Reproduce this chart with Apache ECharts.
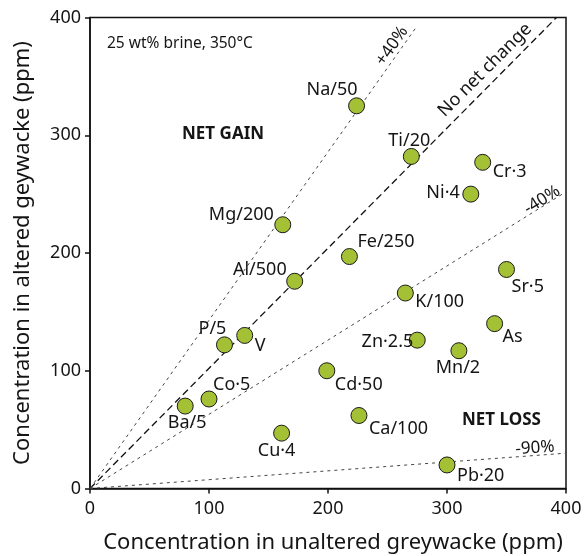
<!DOCTYPE html>
<html lang="en">
  <head>
    <meta charset="UTF-8" />
    <title>Altered vs unaltered greywacke</title>
    <style>
      html, body { margin: 0; padding: 0; background: #ffffff; }
      #app { width: 585px; height: 556px; }
    </style>
  </head>
  <body>
    <div id="app"></div>
    <script src="https://cdn.jsdelivr.net/npm/echarts@6/dist/echarts.min.js"></script>
    <script>
      // element labels and concentrations (ppm, scaled as labelled)
      var names = ['Na/50', 'Ti/20', 'Cr·3', 'Ni·4', 'Mg/200', 'Fe/250', 'Al/500', 'P/5', 'V', 'Co·5',
        'Ba/5', 'Cu·4', 'Sr·5', 'K/100', 'As', 'Zn·2.5', 'Mn/2', 'Cd·50', 'Ca/100', 'Pb·20']
      var unaltered = [224, 270, 330, 320, 162, 218, 172, 113, 130, 100,
        80, 161, 350, 265, 340, 275, 310, 199, 226, 300]
      var altered = [325, 282, 277, 250, 224, 197, 176, 122, 130, 76,
        70, 47, 186, 166, 140, 126, 117, 100, 62, 20]

      // reference lines (start / end points)
      var noChange = [[0, 0], [392, 400]]
      var plus40 = [[0, 0], [275, 393]]
      var minus40 = [[0, 0], [400, 252]]
      var minus90 = [[0, 0], [400, 30]]

      var xTicks = [0, 100, 200, 300, 400]
      var yTicks = [0, 100, 200, 300, 400]

      // label placement for each point: [align, dx, dy]
      var labelPlace = {
        'Na/50': ['right', 1, -16], 'Ti/20': ['center', -2, -16], 'Cr·3': ['left', 10, 10],
        'Ni·4': ['right', -11, -1], 'Mg/200': ['right', -9, -10], 'Fe/250': ['left', 8, -15],
        'Al/500': ['right', -8, -11], 'P/5': ['center', -12, -16], 'V': ['left', 10, 10],
        'Co·5': ['left', 4, -14], 'Ba/5': ['center', 2, 17], 'Cu·4': ['center', -5, 18],
        'Sr·5': ['left', 5, 17], 'K/100': ['left', 10, 9], 'As': ['left', 8, 13],
        'Zn·2.5': ['right', -4, 2], 'Mn/2': ['center', -1, 17], 'Cd·50': ['left', 8, 14],
        'Ca/100': ['left', 10, 13], 'Pb·20': ['left', 10, 11]
      }

      var font = 'Noto Sans'
      var ink = '#151515'
      var chart = echarts.init(document.getElementById('app'))

      var points = names.map(function(n, i) {
        var p = labelPlace[n]
        return {
          name: n,
          value: [unaltered[i], altered[i]],
          label: { align: p[0], offset: [p[1], p[2]] }
        }
      })

      function refLine(data, dashed) {
        return {
          type: 'line',
          data: data,
          symbol: 'none',
          silent: true,
          z: 1,
          lineStyle: dashed
            ? { color: '#111', width: 1.3, type: [7, 4] }
            : { color: '#444', width: 1, type: [3, 4] }
        }
      }

      function txt(str, x, y, deg, opts) {
        return {
          type: 'text',
          x: x,
          y: y,
          rotation: (deg * Math.PI) / 180,
          style: {
            text: str,
            fill: ink,
            font: (opts.bold ? 'bold ' : '') + opts.size + 'px "' + font + '"',
            align: opts.align || 'center',
            verticalAlign: 'middle'
          },
          z: 10
        }
      }

      var option = {
        backgroundColor: '#ffffff',
        animation: false,
        textStyle: { fontFamily: font },
        grid: {
          left: 90,
          right: 19,
          top: 17.5,
          bottom: 67.5,
          outerBoundsMode: 'none',
          containLabel: false,
          show: true,
          borderColor: '#111',
          borderWidth: 1.5,
          backgroundColor: 'transparent'
        },
        xAxis: {
          type: 'value',
          min: xTicks[0],
          max: xTicks[xTicks.length - 1],
          interval: 100,
          name: 'Concentration in unaltered greywacke (ppm)',
          nameLocation: 'middle',
          nameGap: 43,
          nameTextStyle: { fontSize: 22, color: ink, padding: [0, 0, 0, 10] },
          axisLine: { lineStyle: { color: '#111', width: 1.5 } },
          axisTick: { length: 5, lineStyle: { color: '#111', width: 1.5 } },
          axisLabel: { fontSize: 18, color: ink, margin: 11 },
          splitLine: { show: false }
        },
        yAxis: {
          type: 'value',
          min: yTicks[0],
          max: yTicks[yTicks.length - 1],
          interval: 100,
          name: 'Concentration in altered geywacke (ppm)',
          nameLocation: 'middle',
          nameGap: 56,
          nameTextStyle: { fontSize: 22, color: ink },
          axisLine: { lineStyle: { color: '#111', width: 1.5 } },
          axisTick: { length: 5, lineStyle: { color: '#111', width: 1.5 } },
          axisLabel: { fontSize: 18, color: ink, margin: 9 },
          splitLine: { show: false }
        },
        series: [
          refLine(noChange, true),
          refLine(plus40, false),
          refLine(minus40, false),
          refLine(minus90, false),
          {
            type: 'scatter',
            data: points,
            symbolSize: 16,
            z: 5,
            itemStyle: { color: '#a4c136', borderColor: '#1a1a1a', borderWidth: 1, opacity: 1 },
            label: {
              show: true,
              position: 'inside',
              formatter: '{b}',
              fontSize: 18,
              color: ink,
              opacity: 1,
              textBorderWidth: 0,
              verticalAlign: 'middle'
            }
          }
        ],
        graphic: [
          txt('25 wt% brine, 350°C', 107, 44, 0, { align: 'left', size: 15.5 }),
          txt('NET GAIN', 182, 134, 0, { align: 'left', bold: true, size: 17 }),
          txt('NET LOSS', 462, 420, 0, { align: 'left', bold: true, size: 17 }),
          txt('No net change', 485, 70, 45, { size: 18 }),
          txt('+40%', 392, 46, 55, { size: 17 }),
          txt('-40%', 542, 200, 32, { size: 17 }),
          txt('-90%', 535, 448, 4, { size: 17 })
        ]
      }
      chart.setOption(option)
    </script>
  </body>
</html>
